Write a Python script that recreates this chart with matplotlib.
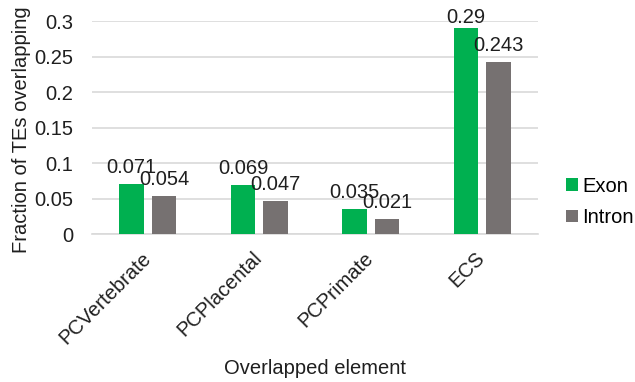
import matplotlib.pyplot as plt
import numpy as np

plt.rcParams['font.family'] = ['Liberation Sans', 'DejaVu Sans']

categories = ["PCVertebrate", "PCPlacental", "PCPrimate", "ECS"]
exon = [0.071, 0.069, 0.035, 0.29]
intron = [0.054, 0.047, 0.021, 0.243]
yticks = [0, 0.05, 0.1, 0.15, 0.2, 0.25, 0.3]
ytick_labels = ["0", "0.05", "0.1", "0.15", "0.2", "0.25", "0.3"]

green = "#00B050"
gray = "#767171"
txt = "#1f1f1f"
fs = 14.5

fig = plt.figure(figsize=(6.35, 3.82), dpi=100)
ax = fig.add_axes([0.145, 0.387, 0.702, 0.558])

x = np.arange(len(categories))
w = 0.22
off = 0.146
b1 = ax.bar(x - off, exon, w, color=green, label="Exon", zorder=3)
b2 = ax.bar(x + off, intron, w, color=gray, label="Intron", zorder=3)

labels = []
for bars, vals in ((b1, exon), (b2, intron)):
    for rect, v in zip(bars, vals):
        t = ax.annotate(f"{v:g}", (rect.get_x() + rect.get_width() / 2, v),
                        xytext=(0, 5), textcoords="offset points",
                        ha="center", va="bottom", fontsize=fs, color=txt,
                        zorder=4, annotation_clip=False)
        labels.append(t)

ax.set_xlim(-0.5, len(categories) - 0.5)
ax.set_ylim(0, 0.3)
ax.set_yticks(yticks)
ax.set_yticklabels(ytick_labels, fontsize=fs, color=txt)
ax.set_xticks(x)
ax.set_xticklabels(categories, fontsize=fs, rotation=45, ha="right",
                   va="center", rotation_mode="anchor", color=txt)
ax.tick_params(axis="both", length=0)
ax.tick_params(axis="x", pad=15)
ax.tick_params(axis="y", pad=13.5)

ax.grid(axis="y", color="#D9D9D9", linewidth=1.2, zorder=0)
for s in ["top", "right", "left"]:
    ax.spines[s].set_visible(False)
ax.spines["bottom"].set_color("#D9D9D9")
ax.spines["bottom"].set_linewidth(1.2)

fig.text(22 / 635, 1 - 130 / 382, "Fraction of TEs overlapping", rotation=90,
         ha="center", va="center", fontsize=fs, color=txt)
fig.text(315 / 635, 1 - 369 / 382, "Overlapped element", ha="center",
         va="center", fontsize=fs, color=txt)

ax.legend(loc="center left", bbox_to_anchor=(566 / 635, 1 - 202 / 382),
          bbox_transform=fig.transFigure, frameon=False, fontsize=fs,
          handlelength=0.6, handleheight=0.6, handletextpad=0.2,
          labelspacing=0.6, borderpad=0, borderaxespad=0)

# keep data labels inside the figure: push down any that stick out the top
fig.canvas.draw()
top_px = fig.bbox.height - 8
for t in labels:
    bb = t.get_window_extent()
    if bb.y1 > top_px:
        shift = (bb.y1 - top_px) * 72 / fig.dpi
        t.set_position((0, 5 - shift))

fig.savefig("out.png", dpi=100)
